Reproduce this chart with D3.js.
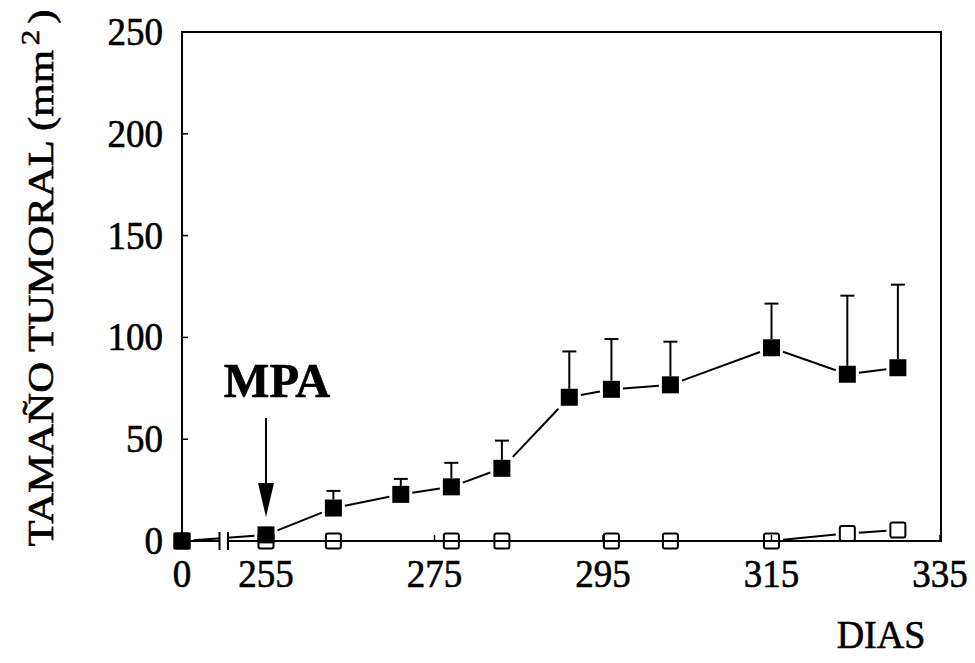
<!DOCTYPE html>
<html><head><meta charset="utf-8">
<script src="https://cdn.jsdelivr.net/npm/d3@7"></script>
<style>body{margin:0;background:#fff}svg{display:block}text{font-family:"Liberation Serif","Times New Roman",serif;fill:#000;stroke:#000;stroke-width:0.6px}</style>
</head><body><svg id="c" width="975" height="663"></svg>
<script>
const xTicks = [0, 255, 275, 295, 315, 335];
const yTicks = [0, 50, 100, 150, 200, 250];
const treatedDays = [0, 255, 263, 271, 277, 283, 291, 296, 303, 315, 324, 330];
const treatedMean = [0, 3, 16.2, 22.9, 26.6, 35.7, 70.6, 74.5, 76.7, 94.9, 81.9, 85.1];
const treatedUpper = [null, null, 24.6, 30.5, 38.4, 49.3, 93.1, 99.2, 97.9, 116.6, 120.5, 125.9];
const controlDays = [0, 255, 263, 277, 283, 296, 303, 315, 324, 330];
const controlMean = [0, 0, 0, 0, 0, 0, 0, 0, 3.7, 5.4];
const yTitle = "TAMAÑO TUMORAL (mm";
const xTitle = "DIAS";
const annotation = "MPA";

const svg = d3.select("#c");
const L = 182, R = 941, T = 32, B = 541;
const x = d3.scaleLinear().domain([0, 255, 335]).range([L, 266, 940]);
const y = d3.scaleLinear().domain([0, 250]).range([B, T]);
const S = 17, gap = 3;

// frame
svg.append("rect").attr("x", L).attr("y", T).attr("width", R - L).attr("height", B - T)
  .attr("fill", "none").attr("stroke", "#000").attr("stroke-width", 2);

// ticks
svg.append("g").selectAll("line").data(yTicks).join("line")
  .attr("x1", L).attr("x2", L + 6).attr("y1", d => y(d)).attr("y2", d => y(d))
  .attr("stroke", "#000").attr("stroke-width", 1.5);
svg.append("g").selectAll("line").data(xTicks.slice(1)).join("line")
  .attr("x1", d => x(d)).attr("x2", d => x(d)).attr("y1", B).attr("y2", B - 6)
  .attr("stroke", "#000").attr("stroke-width", 1.5);

svg.append("g").selectAll("text").data(yTicks).join("text")
  .attr("transform", d => `translate(163,${y(d) + 13}) scale(1,1.1)`).attr("text-anchor", "end")
  .attr("font-size", 37).text(d => d);
svg.append("g").selectAll("text").data(xTicks).join("text")
  .attr("transform", d => `translate(${x(d)},587) scale(1,1.1)`).attr("text-anchor", "middle")
  .attr("font-size", 37).text(d => d);

function segs(days, vals) {
  const out = [];
  for (let i = 0; i < days.length - 1; i++) {
    const x1 = x(days[i]), y1 = y(vals[i]), x2 = x(days[i + 1]), y2 = y(vals[i + 1]);
    const dx = x2 - x1, dy = y2 - y1, len = Math.hypot(dx, dy);
    const ux = dx / len, uy = dy / len;
    const t = (S / 2 + gap) / Math.max(Math.abs(ux), Math.abs(uy));
    const tt = Math.min(t, (S / 2 + gap) * 1.4);
    if (len > 2 * tt) out.push([x1 + ux * tt, y1 + uy * tt, x2 - ux * tt, y2 - uy * tt]);
  }
  return out;
}
const lg = svg.append("g").attr("stroke", "#000").attr("stroke-width", 2);
lg.selectAll(".c").data(segs(controlDays, controlMean)).join("line").attr("class", "c")
  .attr("x1", d => d[0]).attr("y1", d => d[1]).attr("x2", d => d[2]).attr("y2", d => d[3]);
lg.selectAll(".t").data(segs(treatedDays, treatedMean)).join("line").attr("class", "t")
  .attr("x1", d => d[0]).attr("y1", d => d[1]).attr("x2", d => d[2]).attr("y2", d => d[3]);

// axis break
svg.append("rect").attr("x", 220).attr("y", 525).attr("width", 7).attr("height", 22).attr("fill", "#fff");
svg.append("g").selectAll("line").data([219.5, 228]).join("line")
  .attr("x1", d => d).attr("x2", d => d).attr("y1", 532).attr("y2", 550)
  .attr("stroke", "#000").attr("stroke-width", 2);

// error bars
const eb = treatedDays.map((d, i) => ({d, m: treatedMean[i], u: treatedUpper[i]})).filter(e => e.u != null);
const eg = svg.append("g").attr("stroke", "#000").attr("stroke-width", 2);
eg.selectAll(".v").data(eb).join("line").attr("class", "v")
  .attr("x1", e => x(e.d)).attr("x2", e => x(e.d)).attr("y1", e => y(e.m) - S / 2).attr("y2", e => y(e.u));
eg.selectAll(".h").data(eb).join("line").attr("class", "h")
  .attr("x1", e => x(e.d) - 7).attr("x2", e => x(e.d) + 7).attr("y1", e => y(e.u)).attr("y2", e => y(e.u));

// markers
svg.append("g").selectAll("rect").data(controlDays.map((d, i) => [d, controlMean[i]])).join("rect")
  .attr("x", d => x(d[0]) - S / 2 + 1).attr("y", d => y(d[1]) - S / 2 + 1)
  .attr("width", S - 2).attr("height", S - 2).attr("rx", 2)
  .attr("fill", "none").attr("stroke", "#000").attr("stroke-width", 2);
svg.append("g").selectAll("rect").data(treatedDays.map((d, i) => [d, treatedMean[i]])).join("rect")
  .attr("x", d => x(d[0]) - S / 2).attr("y", d => y(d[1]) - S / 2)
  .attr("width", S).attr("height", S).attr("fill", "#000");

// MPA annotation
svg.append("text").attr("transform", "translate(277,397) scale(1.03,1.05)").attr("text-anchor", "middle")
  .attr("font-size", 47).attr("font-weight", "bold").text(annotation);
svg.append("line").attr("x1", x(255)).attr("x2", x(255)).attr("y1", 418).attr("y2", 486)
  .attr("stroke", "#000").attr("stroke-width", 2);
svg.append("path").attr("d", `M${x(255) - 8},483 L${x(255) + 8},483 L${x(255)},517 Z`).attr("fill", "#000");

// titles
svg.append("text").attr("transform", "translate(881,648) scale(1,1.05)").attr("text-anchor", "middle")
  .attr("font-size", 38).text(xTitle);
const yt = svg.append("text").attr("transform", "translate(53,278) rotate(-90)")
  .attr("text-anchor", "middle").attr("font-size", 36)
  .attr("textLength", 537).attr("lengthAdjust", "spacingAndGlyphs");
yt.append("tspan").text(yTitle);
yt.append("tspan").attr("dy", -14).attr("font-size", 26).attr("dx", 4).text("2");
yt.append("tspan").attr("dy", 14).attr("dx", 5).text(")");
</script></body></html>
